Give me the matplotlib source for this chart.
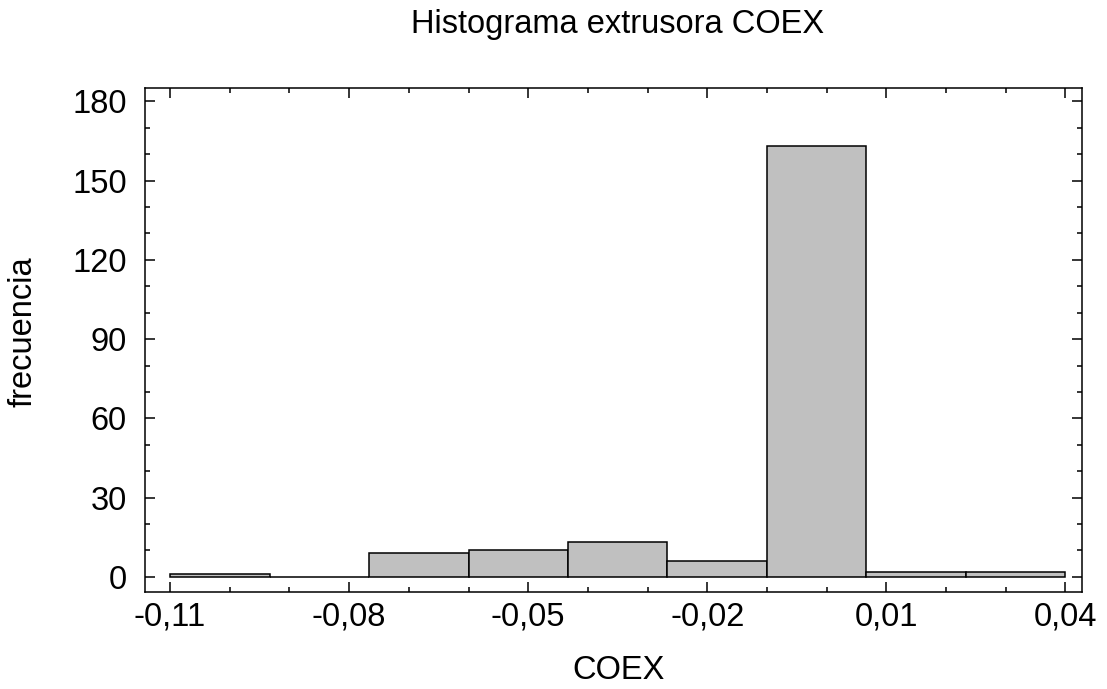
import numpy as np
import matplotlib
matplotlib.use("Agg")
import matplotlib.pyplot as plt
from matplotlib.ticker import FixedLocator, MultipleLocator, FuncFormatter

plt.rcParams['font.family'] = ['Liberation Sans', 'DejaVu Sans']

bin_edges = [-0.11, -0.09333, -0.07667, -0.06, -0.04333, -0.02667, -0.01, 0.00667, 0.02333, 0.04]
counts = [1, 0, 9, 10, 13, 6, 163, 2, 2]
x_ticks = [-0.11, -0.08, -0.05, -0.02, 0.01, 0.04]
y_ticks = [0, 30, 60, 90, 120, 150, 180]

fig = plt.figure(figsize=(11.07, 6.89), dpi=100)
ax = fig.add_axes([0.131, 0.141, 0.846, 0.731])

edges = np.array(bin_edges)
widths = np.diff(edges)
ax.bar(edges[:-1], counts, width=widths, align='edge',
       facecolor='#c0c0c0', edgecolor='black', linewidth=1.1)

ax.set_xlim(-0.1142, 0.0427)
ax.set_ylim(-5.7, 185)

ax.xaxis.set_major_locator(FixedLocator(x_ticks))
ax.xaxis.set_minor_locator(MultipleLocator(0.01))
ax.yaxis.set_major_locator(FixedLocator(y_ticks))
ax.yaxis.set_minor_locator(MultipleLocator(10))
ax.xaxis.set_major_formatter(FuncFormatter(lambda v, p: f"{v:.2f}".replace('.', ',')))
ax.yaxis.set_major_formatter(FuncFormatter(lambda v, p: f"{v:.0f}"))

ax.tick_params(which='both', direction='in', top=True, right=True, width=1.1, colors='black')
ax.tick_params(which='major', length=7, labelsize=23.5)
ax.tick_params(axis='y', which='major', pad=13)
ax.tick_params(axis='x', which='major', pad=7)
ax.tick_params(which='minor', length=3.5)
for s in ax.spines.values():
    s.set_linewidth(1.1)

fig.text(619 / 1107, 1 - 679 / 689, 'COEX', fontsize=23.5, ha='center', va='baseline')
fig.text(23 / 1107, 1 - 331.5 / 689, 'frecuencia', fontsize=23.5, rotation=90,
         ha='center', va='center')
fig.text(618 / 1107, 1 - 33.3 / 689, 'Histograma extrusora COEX', fontsize=23.5,
         ha='center', va='baseline')

fig.savefig('out.png', dpi=100)
